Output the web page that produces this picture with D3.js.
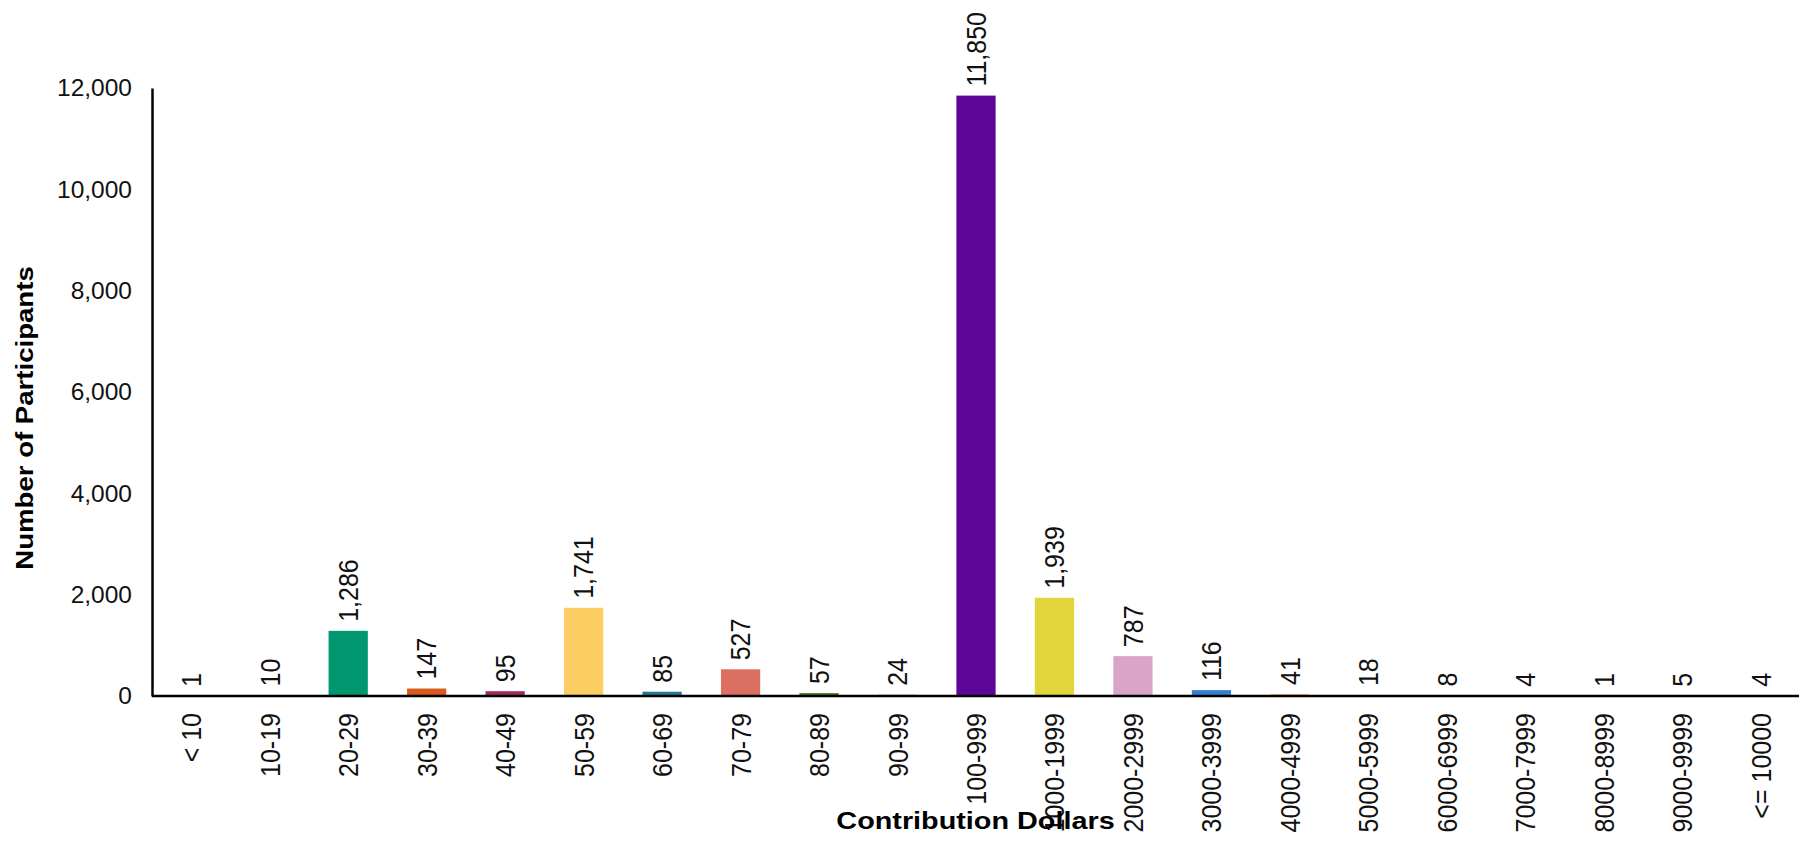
<!DOCTYPE html>
<html>
<head>
<meta charset="utf-8">
<script src="https://cdn.jsdelivr.net/npm/d3@7"></script>
<style>
  html, body { margin: 0; padding: 0; background: #ffffff; }
  svg { display: block; font-family: "Liberation Sans", Arial, sans-serif; }
</style>
</head>
<body>
<svg id="chart" width="1799" height="845"></svg>
<script>
// Contribution ranges (dollars)
const categories = ["< 10", "10-19", "20-29", "30-39", "40-49", "50-59", "60-69", "70-79",
  "80-89", "90-99", "100-999", "1000-1999", "2000-2999", "3000-3999", "4000-4999",
  "5000-5999", "6000-6999", "7000-7999", "8000-8999", "9000-9999", "<= 10000"];

// Number of participants in each range
const participants = [1, 10, 1286, 147, 95, 1741, 85, 527, 57, 24, 11850, 1939, 787,
  116, 41, 18, 8, 4, 1, 5, 4];

// One fill per range
const barColors = ["#4d4d4d", "#7b3294", "#009670", "#da5a1e", "#a22b62", "#fccd62",
  "#227a8e", "#db6f61", "#457a1a", "#d7255a", "#5d0699", "#e2d53c", "#d9a4c8",
  "#3480cf", "#f5c28e", "#9c8a6e", "#6a9fb5", "#c2a5cf", "#1b9e77", "#e7298a", "#66a61e"];

const yTicks = [0, 2000, 4000, 6000, 8000, 10000, 12000];

const svg = d3.select("#chart");
const margin = { left: 152, right: 0, top: 88, bottom: 149 };
const W = 1799, H = 845;
const plotBottom = H - margin.bottom;   // y of the zero line

const x = d3.scaleBand()
  .domain(categories)
  .range([margin.left, margin.left + 1648])
  .paddingInner(0.5)
  .paddingOuter(0.25);

const y = d3.scaleLinear()
  .domain([0, 12000])
  .range([plotBottom, margin.top]);

const fmt = d3.format(",");

// Bars
svg.append("g")
  .selectAll("rect")
  .data(participants)
  .join("rect")
  .attr("x", (d, i) => x(categories[i]))
  .attr("width", x.bandwidth())
  .attr("y", d => y(d))
  .attr("height", d => y(0) - y(d))
  .attr("fill", (d, i) => barColors[i]);

// Y axis (no tick marks, labels only)
const yAxis = svg.append("g")
  .attr("transform", `translate(${margin.left},0)`)
  .call(d3.axisLeft(y).tickValues(yTicks).tickFormat(fmt).tickSize(0).tickPadding(20));
yAxis.select(".domain").attr("stroke", "#000").attr("stroke-width", 2.5);
yAxis.selectAll("text")
  .attr("font-size", 24.5)
  .attr("fill", "#111")
  .style("font-family", "'Liberation Sans', Arial, sans-serif");

// X axis with rotated range labels
const xAxis = svg.append("g")
  .attr("transform", `translate(0,${plotBottom})`)
  .call(d3.axisBottom(x).tickSize(0).tickSizeOuter(0));
xAxis.select(".domain")
  .attr("stroke", "#000")
  .attr("stroke-width", 2.5)
  .attr("d", `M${margin.left},0H${W}`);
xAxis.selectAll("text")
  .attr("font-size", 25)
  .attr("fill", "#111")
  .style("font-family", "'Liberation Sans', Arial, sans-serif")
  .attr("text-anchor", "end")
  .attr("dy", "0.35em")
  .attr("transform", "translate(0,17) rotate(-90) scale(1,1.14)")
  .attr("x", 0)
  .attr("y", 0);

// Value labels above each bar
svg.append("g")
  .selectAll("text")
  .data(participants)
  .join("text")
  .attr("transform", (d, i) => `translate(${x(categories[i]) + x.bandwidth() / 2},${y(d) - 9}) rotate(-90) scale(1,1.12)`)
  .attr("dy", "0.35em")
  .attr("text-anchor", "start")
  .attr("font-size", 25)
  .attr("fill", "#111")
  .text(d => fmt(d));

// Axis titles
svg.append("text")
  .attr("transform", `translate(${(margin.left + W) / 2},829) scale(1.2,1)`)
  .attr("text-anchor", "middle")
  .attr("font-size", 24)
  .attr("font-weight", "bold")
  .attr("fill", "#000")
  .text("Contribution Dollars");

svg.append("text")
  .attr("transform", "translate(33,418) rotate(-90) scale(1.2,1)")
  .attr("text-anchor", "middle")
  .attr("font-size", 23)
  .attr("font-weight", "bold")
  .attr("fill", "#000")
  .text("Number of Participants");
</script>
</body>
</html>
